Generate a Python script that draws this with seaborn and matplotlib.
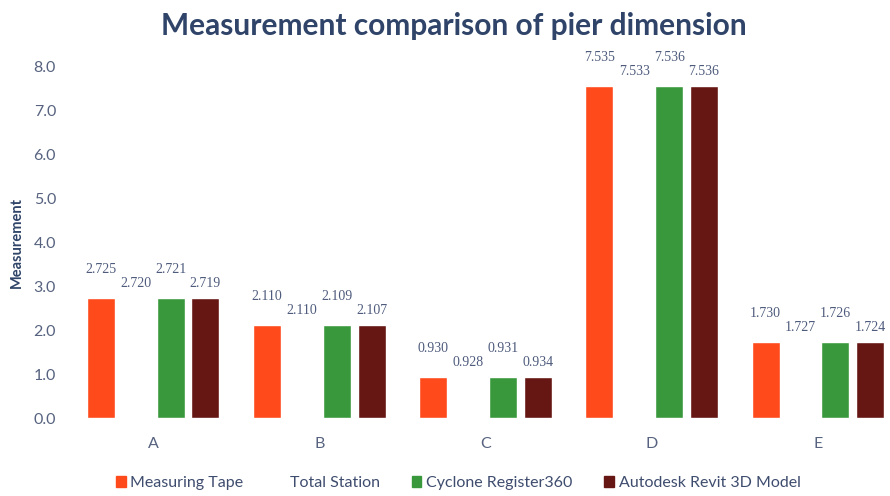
import matplotlib
matplotlib.use("Agg")
import matplotlib.pyplot as plt
import seaborn as sns
import pandas as pd

# 数据
piers = ["A", "B", "C", "D", "E"]
methods = ["Measuring Tape", "Total Station", "Cyclone Register360", "Autodesk Revit 3D Model"]
tape = [2.725, 2.110, 0.930, 7.535, 1.730]
total_station = [2.720, 2.110, 0.928, 7.533, 1.727]
cyclone = [2.721, 2.109, 0.931, 7.536, 1.726]
revit = [2.719, 2.107, 0.934, 7.536, 1.724]

colors = ["#ff4a1c", "#ffffff", "#3a983c", "#661613"]

df = pd.DataFrame({
    "Pier": piers * 4,
    "Method": [m for m in methods for _ in piers],
    "Value": tape + total_station + cyclone + revit,
})

sns.set_theme(style="white")
plt.rcParams["font.family"] = ["Lato", "DejaVu Sans"]

fig = plt.figure(figsize=(8.9, 4.96), dpi=100)
ax = fig.add_axes([70 / 890, 1 - 418 / 496, 831 / 890, (418 - 66) / 496])

sns.barplot(data=df, x="Pier", y="Value", hue="Method", hue_order=methods,
            palette=colors, width=0.84, gap=0.2, ax=ax, legend=False,
            saturation=1)

# 数值标签, 交错高度
for i, cont in enumerate(ax.containers):
    pad = 16 if i % 2 == 0 else 6
    ax.bar_label(cont, labels=[f"{v:.3f}" for v in cont.datavalues], padding=pad,
                 fontsize=10, color="#4e5b7c", family="Liberation Serif", clip_on=False)

ax.set_ylim(0, 8.0)
ax.set_xlim(-0.5, 4.5)
ax.set_yticks([i * 1.0 for i in range(9)])
ax.set_yticklabels([f"{i:.1f}" for i in range(9)])
ax.tick_params(axis="y", labelsize=11.5, labelcolor="#56627f", pad=10, length=0)
ax.tick_params(axis="x", labelsize=11.5, labelcolor="#56627f", pad=14, length=0)
ax.set_xlabel("")
ax.set_ylabel("Measurement", fontsize=10.5, fontweight="bold", color="#2f4468")
ax.yaxis.set_label_coords(-46 / 831, 0.5)
for s in ax.spines.values():
    s.set_visible(False)

fig.suptitle("Measurement comparison of pier dimension", x=0.51, y=0.975,
             fontsize=21.5, fontweight="bold", color="#2f4468")

# 图例
handles = [plt.Rectangle((0, 0), 1, 1, color=c) for c in colors]
fig.legend(handles, methods, loc="center", bbox_to_anchor=(0.515, 0.026), ncol=4,
           frameon=False, fontsize=11.5, labelcolor="#3e4c6e", handlelength=0.6,
           handleheight=0.6, handletextpad=0.3, columnspacing=2.0)

fig.savefig("out.png", dpi=100)
